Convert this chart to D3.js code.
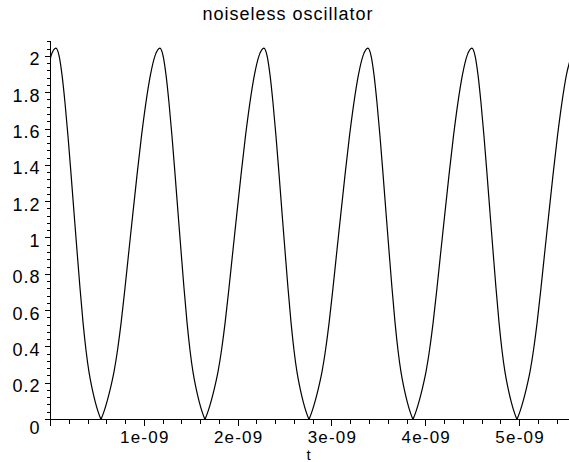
<!DOCTYPE html>
<html>
<head>
<meta charset="utf-8">
<script src="https://cdn.jsdelivr.net/npm/d3@7"></script>
<style>
  html, body { margin: 0; padding: 0; background: #fff; }
  svg { display: block; }
  text { font-family: "Liberation Sans", Arial, sans-serif; fill: #000; }
</style>
</head>
<body>
<script>
// ---- data (t in units of 1e-9 s) ----
const titleText = "noiseless oscillator";
const xLabel = "t";
const tValues = [
  0, 0.0072, 0.0584,
  0.0904, 0.1224, 0.1543, 0.1863, 0.2183, 0.2503, 0.2822, 0.3142, 0.3462, 0.3782, 0.4101, 0.4421, 0.4741, 0.5061, 0.538,
  0.5706, 0.6046, 0.6399, 0.6766, 0.7145, 0.7537, 0.7943, 0.8362, 0.8795, 0.9241, 0.97, 1.0172, 1.0658, 1.1157, 1.1669,
  1.1989, 1.2309, 1.2628, 1.2948, 1.3268, 1.3588, 1.3907, 1.4227, 1.4547, 1.4867, 1.5186, 1.5506, 1.5826, 1.6146, 1.6465,
  1.6791, 1.7131, 1.7484, 1.7851, 1.823, 1.8622, 1.9028, 1.9447, 1.988, 2.0326, 2.0785, 2.1257, 2.1743, 2.2242, 2.2754,
  2.3074, 2.3394, 2.3713, 2.4033, 2.4353, 2.4673, 2.4992, 2.5312, 2.5632, 2.5952, 2.6271, 2.6591, 2.6911, 2.7231, 2.755,
  2.7876, 2.8216, 2.8569, 2.8936, 2.9315, 2.9707, 3.0113, 3.0532, 3.0965, 3.1411, 3.187, 3.2342, 3.2828, 3.3327, 3.3839,
  3.4159, 3.4479, 3.4798, 3.5118, 3.5438, 3.5758, 3.6077, 3.6397, 3.6717, 3.7037, 3.7356, 3.7676, 3.7996, 3.8316, 3.8635,
  3.8961, 3.9301, 3.9654, 4.0021, 4.04, 4.0792, 4.1198, 4.1617, 4.205, 4.2496, 4.2955, 4.3427, 4.3913, 4.4412, 4.4924,
  4.5244, 4.5564, 4.5883, 4.6203, 4.6523, 4.6843, 4.7162, 4.7482, 4.7802, 4.8122, 4.8441, 4.8761, 4.9081, 4.9401, 4.972,
  5.0046, 5.0386, 5.0739, 5.1106, 5.1485, 5.1877, 5.2283, 5.2702, 5.3135, 5.3581, 5.404, 5.4512, 5.4998, 5.532
];
const yValues = [
  1.991, 2.006, 2.046,
  2.006, 1.900, 1.746, 1.562, 1.356, 1.142, 0.932, 0.726, 0.538, 0.383, 0.262, 0.174, 0.103, 0.045, 0,
  0.045, 0.103, 0.174, 0.262, 0.383, 0.538, 0.726, 0.932, 1.142, 1.356, 1.562, 1.746, 1.900, 2.006, 2.046,
  2.006, 1.900, 1.746, 1.562, 1.356, 1.142, 0.932, 0.726, 0.538, 0.383, 0.262, 0.174, 0.103, 0.045, 0,
  0.045, 0.103, 0.174, 0.262, 0.383, 0.538, 0.726, 0.932, 1.142, 1.356, 1.562, 1.746, 1.900, 2.006, 2.046,
  2.006, 1.900, 1.746, 1.562, 1.356, 1.142, 0.932, 0.726, 0.538, 0.383, 0.262, 0.174, 0.103, 0.045, 0,
  0.045, 0.103, 0.174, 0.262, 0.383, 0.538, 0.726, 0.932, 1.142, 1.356, 1.562, 1.746, 1.900, 2.006, 2.046,
  2.006, 1.900, 1.746, 1.562, 1.356, 1.142, 0.932, 0.726, 0.538, 0.383, 0.262, 0.174, 0.103, 0.045, 0,
  0.045, 0.103, 0.174, 0.262, 0.383, 0.538, 0.726, 0.932, 1.142, 1.356, 1.562, 1.746, 1.900, 2.006, 2.046,
  2.006, 1.900, 1.746, 1.562, 1.356, 1.142, 0.932, 0.726, 0.538, 0.383, 0.262, 0.174, 0.103, 0.045, 0,
  0.045, 0.103, 0.174, 0.262, 0.383, 0.538, 0.726, 0.932, 1.142, 1.356, 1.562, 1.746, 1.900, 1.968
];
const xTickValues = [1, 2, 3, 4, 5];
const xTickLabels = ["1e-09", "2e-09", "3e-09", "4e-09", "5e-09"];
const yTickValues = [0, 0.2, 0.4, 0.6, 0.8, 1, 1.2, 1.4, 1.6, 1.8, 2];
const yTickLabels = ["0", "0.2", "0.4", "0.6", "0.8", "1", "1.2", "1.4", "1.6", "1.8", "2"];

// ---- layout ----
const W = 569, H = 462;
const svg = d3.select("body").append("svg").attr("width", W).attr("height", H);

const tMax = 5.532;
const x = d3.scaleLinear().domain([0, tMax]).range([50.5, 569.5]);
const y = d3.scaleLinear().domain([0, 2.085]).range([419.5, 41]);

// title
svg.append("text").attr("x", 288).attr("y", 20).attr("text-anchor", "middle")
  .style("font-size", "18px").style("letter-spacing", "1px").text(titleText);

// x axis
const xMinor = d3.range(0, tMax, 0.2).map(v => +v.toFixed(2));
const gx = svg.append("g").attr("transform", `translate(0,${y(0)})`);
gx.append("line").attr("x1", x(0)).attr("x2", x(tMax)).attr("y1", 0).attr("y2", 0)
  .attr("stroke", "#000").attr("shape-rendering", "crispEdges");
gx.selectAll("line.minor").data(xMinor).join("line").attr("class", "minor")
  .attr("x1", d => x(d)).attr("x2", d => x(d))
  .attr("y1", 0).attr("y2", d => (Math.abs(d - Math.round(d)) < 1e-6 ? 6 : 4))
  .attr("stroke", "#000").attr("shape-rendering", "crispEdges");
gx.selectAll("text").data(xTickValues).join("text")
  .attr("x", d => x(d) + 0.5).attr("y", 23.5).attr("text-anchor", "middle")
  .style("font-size", "17px").style("letter-spacing", "1.2px")
  .text((d, i) => xTickLabels[i]);
svg.append("text").attr("x", (x(0) + x(5.5)) / 2).attr("y", 460).attr("text-anchor", "middle")
  .style("font-size", "15px").text(xLabel);

// y axis
const yMinor = d3.range(0, 2.0801, 0.04).map(v => +v.toFixed(2));
const gy = svg.append("g").attr("transform", `translate(${x(0)},0)`);
gy.append("line").attr("x1", 0).attr("x2", 0).attr("y1", y(2.085)).attr("y2", y(0))
  .attr("stroke", "#000").attr("shape-rendering", "crispEdges");
gy.selectAll("line.minor").data(yMinor).join("line").attr("class", "minor")
  .attr("x1", d => (Math.abs(d * 5 - Math.round(d * 5)) < 1e-6 ? -6 : -4)).attr("x2", 0)
  .attr("y1", d => y(d)).attr("y2", d => y(d))
  .attr("stroke", "#000").attr("shape-rendering", "crispEdges");
gy.selectAll("text").data(yTickValues).join("text")
  .attr("x", -10).attr("y", d => y(d) + (d === 0 ? 14 : 9)).attr("text-anchor", "end")
  .style("font-size", "18px").style("letter-spacing", "1px")
  .text((d, i) => yTickLabels[i]);

// curve: split into lobes at the zeros so the troughs stay sharp
const pts = tValues.map((t, i) => [t, yValues[i]]);
const lobes = [];
let cur = [];
pts.forEach((p, i) => {
  cur.push(p);
  if (p[1] === 0 && i > 0 && i < pts.length - 1) { lobes.push(cur); cur = [p]; }
});
lobes.push(cur);
const line = d3.line().x(d => x(d[0])).y(d => y(d[1])).curve(d3.curveMonotoneX);
svg.selectAll("path.lobe").data(lobes).join("path").attr("class", "lobe")
  .attr("d", line).attr("fill", "none").attr("stroke", "#000").attr("stroke-width", 1.2);
</script>
</body>
</html>
